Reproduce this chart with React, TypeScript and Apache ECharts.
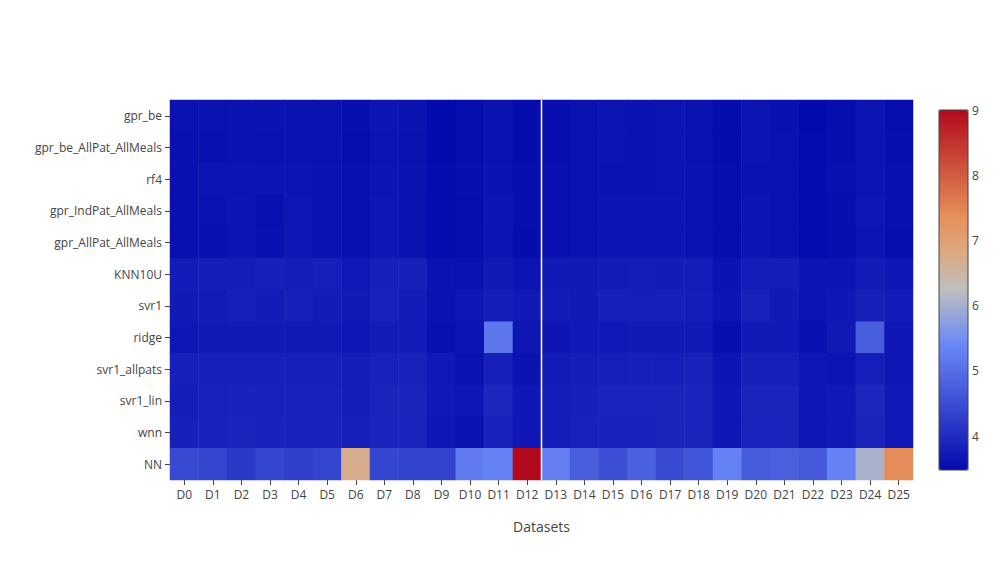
import React, { useEffect, useRef } from "react";
import * as echarts from "echarts";

const datasets = ["D0","D1","D2","D3","D4","D5","D6","D7","D8","D9","D10","D11","D12","D13","D14","D15","D16","D17","D18","D19","D20","D21","D22","D23","D24","D25"];
const models = ["gpr_be","gpr_be_AllPat_AllMeals","rf4","gpr_IndPat_AllMeals","gpr_AllPat_AllMeals","KNN10U","svr1","ridge","svr1_allpats","svr1_lin","wnn","NN"];

const gpr_be = [3.6,3.6,3.62,3.62,3.62,3.6,3.55,3.65,3.62,3.48,3.53,3.6,3.52,3.55,3.6,3.63,3.62,3.63,3.6,3.52,3.63,3.58,3.48,3.53,3.63,3.53];
const gpr_be_AllPat_AllMeals = [3.58,3.58,3.62,3.6,3.62,3.6,3.53,3.63,3.6,3.48,3.53,3.6,3.52,3.55,3.6,3.63,3.62,3.63,3.6,3.52,3.63,3.6,3.5,3.53,3.63,3.55];
const rf4 = [3.58,3.63,3.63,3.63,3.63,3.62,3.57,3.65,3.62,3.5,3.55,3.62,3.55,3.57,3.6,3.62,3.62,3.63,3.62,3.53,3.62,3.6,3.5,3.57,3.63,3.57];
const gpr_IndPat_AllMeals = [3.58,3.6,3.65,3.57,3.66,3.6,3.57,3.66,3.6,3.5,3.53,3.65,3.56,3.57,3.6,3.65,3.65,3.65,3.62,3.53,3.63,3.6,3.5,3.55,3.66,3.57];
const gpr_AllPat_AllMeals = [3.57,3.58,3.65,3.58,3.66,3.6,3.57,3.66,3.6,3.5,3.53,3.63,3.52,3.57,3.6,3.64,3.64,3.65,3.62,3.53,3.63,3.6,3.5,3.55,3.63,3.53];
const KNN10U = [3.75,3.78,3.77,3.8,3.77,3.8,3.7,3.83,3.82,3.62,3.6,3.72,3.63,3.72,3.72,3.75,3.77,3.75,3.77,3.62,3.77,3.77,3.65,3.65,3.75,3.68];
const svr1 = [3.73,3.75,3.82,3.75,3.83,3.75,3.72,3.85,3.75,3.6,3.68,3.78,3.72,3.75,3.73,3.82,3.8,3.82,3.78,3.65,3.85,3.72,3.63,3.68,3.83,3.75];
const ridge = [3.66,3.72,3.72,3.72,3.72,3.72,3.66,3.75,3.75,3.57,3.65,5.15,3.66,3.65,3.7,3.7,3.72,3.72,3.72,3.55,3.72,3.72,3.58,3.72,4.75,3.68];
const svr1_allpats = [3.83,3.83,3.83,3.83,3.83,3.83,3.78,3.85,3.85,3.7,3.6,3.82,3.62,3.75,3.78,3.8,3.82,3.8,3.85,3.65,3.83,3.83,3.67,3.63,3.8,3.66];
const svr1_lin = [3.77,3.85,3.86,3.85,3.86,3.85,3.78,3.88,3.88,3.7,3.66,3.92,3.68,3.77,3.83,3.87,3.87,3.88,3.87,3.67,3.88,3.88,3.67,3.7,3.92,3.7];
const wnn = [3.83,3.85,3.88,3.86,3.86,3.85,3.82,3.87,3.87,3.68,3.6,3.85,3.67,3.77,3.84,3.86,3.86,3.88,3.88,3.67,3.87,3.88,3.68,3.7,3.88,3.7];
const NN = [4.45,4.38,4.2,4.4,4.3,4.38,6.7,4.4,4.35,4.35,5.2,5.3,9.0,5.25,4.76,4.5,4.78,4.45,4.62,5.3,4.72,4.8,4.7,5.3,6.04,7.4];

const rows = [gpr_be, gpr_be_AllPat_AllMeals, rf4, gpr_IndPat_AllMeals, gpr_AllPat_AllMeals, KNN10U, svr1, ridge, svr1_allpats, svr1_lin, wnn, NN];

const colorMin = 3.48;
const colorMax = 9.0;
const colorTicks = [4, 5, 6, 7, 8, 9];
const dividerX = [13, 13];
const dividerY = [0, 1];

const rdbuStops: [number, number[]][] = [
  [0, [5, 10, 172]],
  [0.35, [106, 137, 247]],
  [0.5, [190, 190, 190]],
  [0.6, [220, 170, 132]],
  [0.7, [230, 145, 90]],
  [1, [178, 10, 28]],
];

function colorAt(t: number): string {
  for (let i = 0; i < rdbuStops.length - 1; i++) {
    const [t0, c0] = rdbuStops[i];
    const [t1, c1] = rdbuStops[i + 1];
    if (t >= t0 && t <= t1) {
      const f = (t - t0) / (t1 - t0);
      const c = c0.map((v, k) => Math.round(v + (c1[k] - v) * f));
      return `rgb(${c[0]},${c[1]},${c[2]})`;
    }
  }
  const c = rdbuStops[rdbuStops.length - 1][1];
  return `rgb(${c[0]},${c[1]},${c[2]})`;
}

export default function App() {
  const ref = useRef<HTMLDivElement>(null);
  useEffect(() => {
    if (!ref.current) return;
    const chart = echarts.init(ref.current, undefined, { renderer: "svg" });
    const data: [number, number, number][] = [];
    rows.forEach((row, y) => row.forEach((v, x) => data.push([x, y, v])));
    const colors: string[] = [];
    for (let i = 0; i <= 40; i++) colors.push(colorAt(i / 40));
    const font = '"Open Sans", "Noto Sans", sans-serif';
    chart.setOption({
      animation: false,
      backgroundColor: "#fff",
      textStyle: { fontFamily: font },
      grid: [
        { left: 170, right: 86, top: 100, bottom: 81, containLabel: false },
        { left: 939, top: 110, width: 29, height: 360, show: true, borderColor: "#444", borderWidth: 1, backgroundColor: "transparent", z: 10 },
      ],
      xAxis: [
        {
          type: "category",
          gridIndex: 0,
          data: datasets,
          name: "Datasets",
          nameLocation: "middle",
          nameGap: 39,
          nameTextStyle: { fontSize: 14, color: "#444", fontFamily: font },
          axisLine: { show: false },
          axisTick: { show: true, alignWithLabel: true, length: 5, lineStyle: { color: "#444" } },
          axisLabel: { color: "#444", fontSize: 12, margin: 8, interval: 0, fontFamily: font },
          splitLine: { show: false },
        },
        { type: "value", gridIndex: 0, min: 0, max: datasets.length, show: false },
        { type: "value", gridIndex: 1, min: 0, max: 1, show: false },
      ],
      yAxis: [
        {
          type: "category",
          gridIndex: 0,
          data: models,
          inverse: true,
          axisLine: { show: false },
          axisTick: { show: true, alignWithLabel: true, length: 5, lineStyle: { color: "#444" } },
          axisLabel: { color: "#444", fontSize: 12, margin: 8, interval: 0, fontFamily: font },
          splitLine: { show: false },
        },
        { type: "value", gridIndex: 0, min: 0, max: 1, show: false },
        {
          type: "value",
          gridIndex: 1,
          position: "right",
          min: colorMin,
          max: colorMax,
          axisLine: { show: false },
          axisTick: { show: false, customValues: colorTicks },
          axisLabel: { color: "#444", fontSize: 12, margin: 4, customValues: colorTicks, fontFamily: font },
          splitLine: { show: false },
        },
      ],
      visualMap: {
        type: "continuous",
        min: colorMin,
        max: colorMax,
        dimension: 2,
        seriesIndex: 0,
        calculable: false,
        orient: "vertical",
        left: 939,
        top: 110,
        padding: 0,
        itemWidth: 29,
        itemHeight: 360,
        text: ["", ""],
        showLabel: false,
        inRange: { color: colors },
      },
      series: [
        {
          type: "heatmap",
          xAxisIndex: 0,
          yAxisIndex: 0,
          data,
          itemStyle: { borderWidth: 0 },
          emphasis: { disabled: true },
        },
        {
          type: "line",
          xAxisIndex: 1,
          yAxisIndex: 1,
          data: dividerX.map((x, i) => [x, dividerY[i]]),
          symbol: "none",
          lineStyle: { color: "#fff", width: 1.5 },
          z: 10,
          silent: true,
        },
      ],
    });
    return () => chart.dispose();
  }, []);
  return <div ref={ref} style={{ position: "fixed", left: 0, top: 0, width: 999, height: 561 }} />;
}
